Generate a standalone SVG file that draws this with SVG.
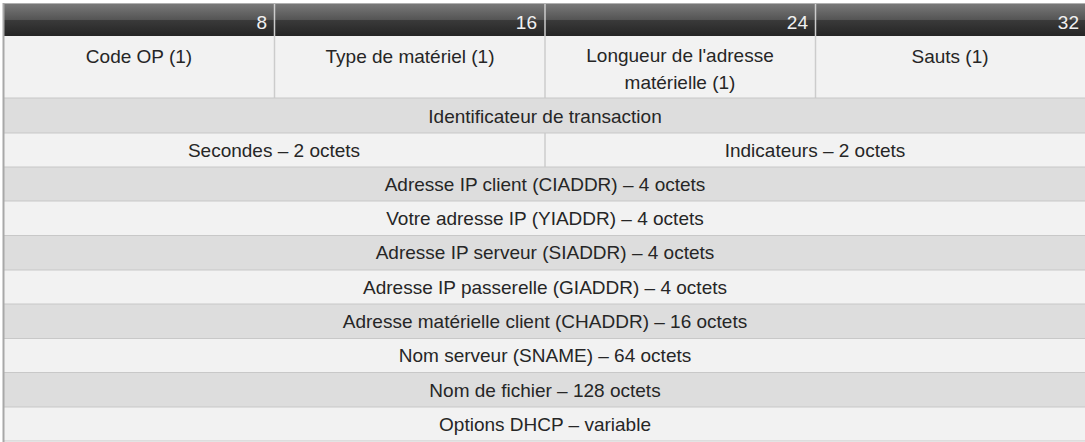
<svg xmlns="http://www.w3.org/2000/svg" width="1085" height="442" viewBox="0 0 1085 442">
  <style>
    .hdr { font-family: "Liberation Sans", Arial, sans-serif; font-size: 19px; fill: #f0f0f0; text-anchor: end; }
    .lbl { font-family: "Liberation Sans", Arial, sans-serif; font-size: 19px; fill: #262626; text-anchor: middle; }
    .light { fill: #f2f2f2; }
    .dark { fill: #dddddd; }
    .sep { stroke: #c8c8c8; stroke-width: 1.2; }
    .vsep { stroke: #cccccc; stroke-width: 1.5; }
  </style>
  <defs>
    <linearGradient id="hdrGrad" x1="0" y1="0" x2="0" y2="1">
      <stop offset="0" stop-color="#7a7a7a"/>
      <stop offset="0.5" stop-color="#555555"/>
      <stop offset="0.52" stop-color="#3a3a3a"/>
      <stop offset="1" stop-color="#252525"/>
    </linearGradient>
  </defs>

  <rect x="0" y="0" width="1085" height="442" fill="#ffffff"/>

  <!-- header bar with bit positions -->
  <g id="header">
    <rect x="4" y="3" width="1081" height="33" fill="url(#hdrGrad)"/>
    <line x1="4" y1="3.5" x2="1085" y2="3.5" stroke="#b0b0b0" stroke-width="1"/>
    <text class="hdr" x="267" y="29">8</text>
    <text class="hdr" x="537" y="29">16</text>
    <text class="hdr" x="808" y="29">24</text>
    <text class="hdr" x="1079" y="29">32</text>
  </g>

  <!-- first word: four 8-bit fields -->
  <g id="row-opcode">
    <rect class="light" x="4" y="36" width="1081" height="62"/>
    <text class="lbl" x="139" y="63">Code OP (1)</text>
    <text class="lbl" x="410" y="63">Type de matériel (1)</text>
    <text class="lbl" x="680" y="62">Longueur de l'adresse</text>
    <text class="lbl" x="680" y="89">matérielle (1)</text>
    <text class="lbl" x="950" y="63">Sauts (1)</text>
  </g>

  <g id="row-xid">
    <rect class="dark" x="4" y="98" width="1081" height="35"/>
    <text class="lbl" x="545" y="123">Identificateur de transaction</text>
  </g>

  <g id="row-secs-flags">
    <rect class="light" x="4" y="133" width="1081" height="34"/>
    <text class="lbl" x="274" y="157">Secondes – 2 octets</text>
    <text class="lbl" x="815" y="157">Indicateurs – 2 octets</text>
  </g>

  <g id="row-ciaddr">
    <rect class="dark" x="4" y="167" width="1081" height="34"/>
    <text class="lbl" x="545" y="191">Adresse IP client (CIADDR) – 4 octets</text>
  </g>

  <g id="row-yiaddr">
    <rect class="light" x="4" y="201" width="1081" height="34"/>
    <text class="lbl" x="545" y="225">Votre adresse IP (YIADDR) – 4 octets</text>
  </g>

  <g id="row-siaddr">
    <rect class="dark" x="4" y="235" width="1081" height="35"/>
    <text class="lbl" x="545" y="259">Adresse IP serveur (SIADDR) – 4 octets</text>
  </g>

  <g id="row-giaddr">
    <rect class="light" x="4" y="270" width="1081" height="34"/>
    <text class="lbl" x="545" y="294">Adresse IP passerelle (GIADDR) – 4 octets</text>
  </g>

  <g id="row-chaddr">
    <rect class="dark" x="4" y="304" width="1081" height="34"/>
    <text class="lbl" x="545" y="328">Adresse matérielle client (CHADDR) – 16 octets</text>
  </g>

  <g id="row-sname">
    <rect class="light" x="4" y="338" width="1081" height="34"/>
    <text class="lbl" x="545" y="362">Nom serveur (SNAME) – 64 octets</text>
  </g>

  <g id="row-file">
    <rect class="dark" x="4" y="372" width="1081" height="35"/>
    <text class="lbl" x="545" y="397">Nom de fichier – 128 octets</text>
  </g>

  <g id="row-options">
    <rect class="light" x="4" y="407" width="1081" height="34"/>
    <text class="lbl" x="545" y="431">Options DHCP – variable</text>
  </g>

  <!-- grid lines -->
  <g id="grid">
    <line class="vsep" x1="274.5" y1="4" x2="274.5" y2="98"/>
    <line class="vsep" x1="545" y1="4" x2="545" y2="98"/>
    <line class="vsep" x1="815.5" y1="4" x2="815.5" y2="98"/>
    <line class="vsep" x1="545" y1="133" x2="545" y2="167"/>
    <line class="sep" x1="4" y1="98" x2="1085" y2="98"/>
    <line class="sep" x1="4" y1="133" x2="1085" y2="133"/>
    <line class="sep" x1="4" y1="167" x2="1085" y2="167"/>
    <line class="sep" x1="4" y1="201" x2="1085" y2="201"/>
    <line class="sep" x1="4" y1="235.5" x2="1085" y2="235.5"/>
    <line class="sep" x1="4" y1="270" x2="1085" y2="270"/>
    <line class="sep" x1="4" y1="304" x2="1085" y2="304"/>
    <line class="sep" x1="4" y1="338.5" x2="1085" y2="338.5"/>
    <line class="sep" x1="4" y1="372.5" x2="1085" y2="372.5"/>
    <line class="sep" x1="4" y1="407" x2="1085" y2="407"/>
    <line class="sep" x1="4" y1="441" x2="1085" y2="441"/>
    <line x1="3.5" y1="3" x2="3.5" y2="442" stroke="#a8a8a8" stroke-width="2"/>
  </g>
</svg>
